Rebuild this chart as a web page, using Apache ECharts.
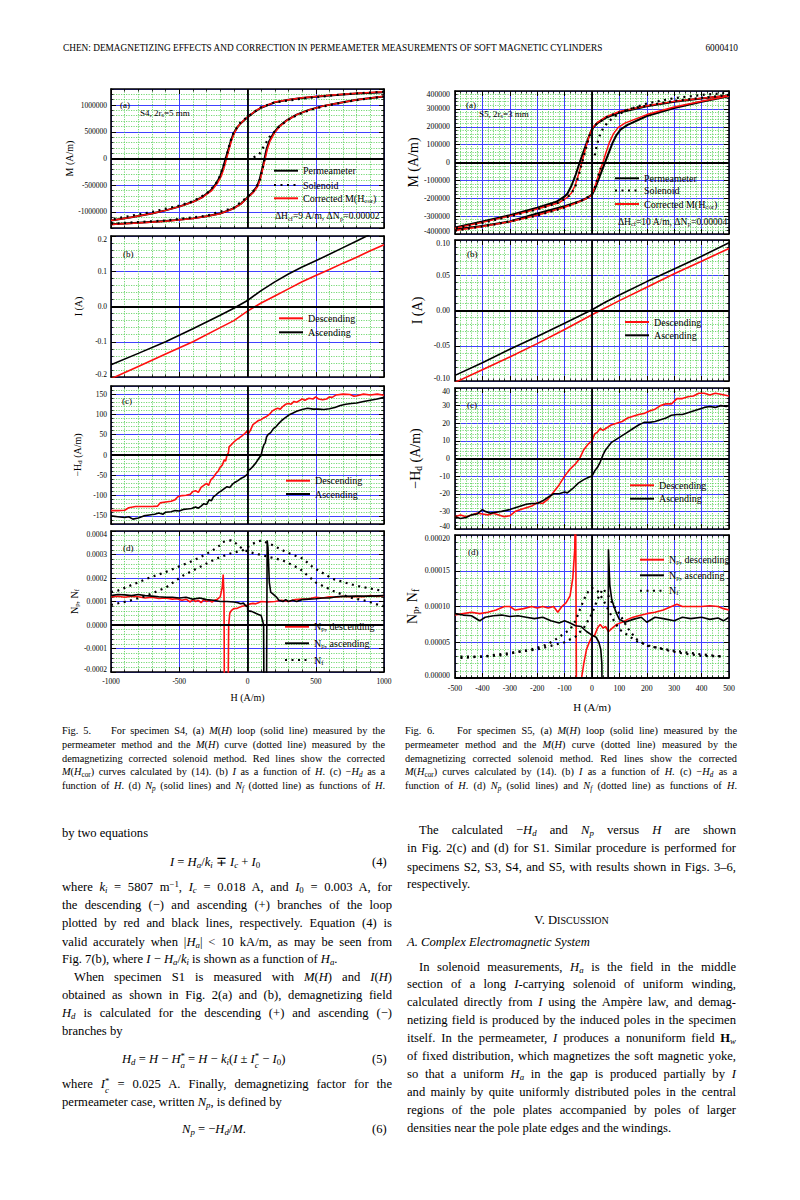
<!DOCTYPE html>
<html><head><meta charset="utf-8">
<script src="https://cdn.jsdelivr.net/npm/echarts@6/dist/echarts.min.js"></script>
<style>
body{margin:0;width:800px;height:1200px;background:#fff;position:relative;overflow:hidden;font-family:"Liberation Serif",serif;color:#000}
#chart{position:absolute;left:0;top:0;width:800px;height:1200px}
.ln{position:absolute;white-space:nowrap;font-size:12.6px;line-height:18px;text-align:justify;text-align-last:justify}
.cap{position:absolute;white-space:nowrap;font-size:10.3px;line-height:13.75px;text-align:justify;text-align-last:justify}
.l{text-align:left;text-align-last:left}
.c{text-align:center;text-align-last:center}
sub{font-size:70%;vertical-align:-0.28em;line-height:0}
sup{font-size:70%;vertical-align:0.5em;line-height:0}
.st{display:inline-block;font-size:70%;line-height:0.95;vertical-align:-0.55em;text-align:left}
</style></head><body>
<div id="chart"></div>

<div class="ln l" style="left:63px;top:39px;font-size:9.3px;line-height:18px;">CHEN: DEMAGNETIZING EFFECTS AND CORRECTION IN PERMEAMETER MEASUREMENTS OF SOFT MAGNETIC CYLINDERS</div>
<div class="ln" style="left:690px;top:39px;width:48px;font-size:9.3px;text-align:right;text-align-last:right;">6000410</div>

<div class="cap" style="left:62px;top:724px;width:323px">Fig. 5.&nbsp;&nbsp;&nbsp; For specimen S4, (a) <i>M</i>(<i>H</i>) loop (solid line) measured by the</div>
<div class="cap" style="left:62px;top:737.75px;width:323px">permeameter method and the <i>M</i>(<i>H</i>) curve (dotted line) measured by the</div>
<div class="cap" style="left:62px;top:751.5px;width:323px">demagnetizing corrected solenoid method. Red lines show the corrected</div>
<div class="cap" style="left:62px;top:765.25px;width:323px"><i>M</i>(<i>H</i><sub>cor</sub>) curves calculated by (14). (b) <i>I</i> as a function of <i>H</i>. (c) &minus;<i>H<sub>d</sub></i> as a</div>
<div class="cap" style="left:62px;top:779px;width:323px">function of <i>H</i>. (d) <i>N<sub>p</sub></i> (solid lines) and <i>N<sub>f</sub></i> (dotted line) as functions of <i>H</i>.</div>

<div class="cap" style="left:405px;top:724px;width:332px">Fig. 6.&nbsp;&nbsp;&nbsp; For specimen S5, (a) <i>M</i>(<i>H</i>) loop (solid line) measured by the</div>
<div class="cap" style="left:405px;top:737.75px;width:332px">permeameter method and the <i>M</i>(<i>H</i>) curve (dotted line) measured by the</div>
<div class="cap" style="left:405px;top:751.5px;width:332px">demagnetizing corrected solenoid method. Red lines show the corrected</div>
<div class="cap" style="left:405px;top:765.25px;width:332px"><i>M</i>(<i>H</i><sub>cor</sub>) curves calculated by (14). (b) <i>I</i> as a function of <i>H</i>. (c) &minus;<i>H<sub>d</sub></i> as a</div>
<div class="cap" style="left:405px;top:779px;width:332px">function of <i>H</i>. (d) <i>N<sub>p</sub></i> (solid lines) and <i>N<sub>f</sub></i> (dotted line) as functions of <i>H</i>.</div>

<div class="ln l" style="left:62px;top:824px">by two equations</div>
<div class="ln l" style="left:170px;top:852.5px"><i>I</i> = <i>H<sub>a</sub></i>/<i>k<sub>i</sub></i> &#8723; <i>I<sub>c</sub></i> + <i>I</i><sub>0</sub></div>
<div class="ln l" style="left:372px;top:852.5px">(4)</div>
<div class="ln" style="left:62px;top:877.7px;width:330px">where <i>k<sub>i</sub></i> = 5807 m<sup>&minus;1</sup>, <i>I<sub>c</sub></i> = 0.018 A, and <i>I</i><sub>0</sub> = 0.003 A, for</div>
<div class="ln" style="left:62px;top:896px;width:330px">the descending (&minus;) and ascending (+) branches of the loop</div>
<div class="ln" style="left:62px;top:914px;width:330px">plotted by red and black lines, respectively. Equation (4) is</div>
<div class="ln" style="left:62px;top:932.7px;width:330px">valid accurately when |<i>H<sub>a</sub></i>| &lt; 10 kA/m, as may be seen from</div>
<div class="ln l" style="left:62px;top:950px;">Fig. 7(b), where <i>I</i> &minus; <i>H<sub>a</sub></i>/<i>k<sub>i</sub></i> is shown as a function of <i>H<sub>a</sub></i>.</div>
<div class="ln" style="left:74px;top:968.3px;width:318px">When specimen S1 is measured with <i>M</i>(<i>H</i>) and <i>I</i>(<i>H</i>)</div>
<div class="ln" style="left:62px;top:986px;width:330px">obtained as shown in Fig. 2(a) and (b), demagnetizing field</div>
<div class="ln" style="left:62px;top:1004px;width:330px"><i>H<sub>d</sub></i> is calculated for the descending (+) and ascending (&minus;)</div>
<div class="ln l" style="left:62px;top:1022px">branches by</div>
<div class="ln l" style="left:122px;top:1050px"><i>H<sub>d</sub></i> = <i>H</i> &minus; <i>H</i><span class="st">*<br><i>a</i></span> = <i>H</i> &minus; <i>k<sub>i</sub></i>(<i>I</i> &plusmn; <i>I</i><span class="st">*<br><i>c</i></span> &minus; <i>I</i><sub>0</sub>)</div>
<div class="ln l" style="left:372px;top:1050px">(5)</div>
<div class="ln" style="left:62px;top:1075px;width:330px">where <i>I</i><span class="st">*<br><i>c</i></span> = 0.025 A. Finally, demagnetizing factor for the</div>
<div class="ln l" style="left:62px;top:1093px">permeameter case, written <i>N<sub>p</sub></i>, is defined by</div>
<div class="ln l" style="left:182px;top:1120px"><i>N<sub>p</sub></i> = &minus;<i>H<sub>d</sub></i>/<i>M</i>.</div>
<div class="ln l" style="left:372px;top:1120px">(6)</div>

<div class="ln" style="left:419px;top:821px;width:317px">The calculated &minus;<i>H<sub>d</sub></i> and <i>N<sub>p</sub></i> versus <i>H</i> are shown</div>
<div class="ln" style="left:407px;top:839.3px;width:329px">in Fig. 2(c) and (d) for S1. Similar procedure is performed for</div>
<div class="ln" style="left:407px;top:857.7px;width:329px">specimens S2, S3, S4, and S5, with results shown in Figs. 3&ndash;6,</div>
<div class="ln l" style="left:407px;top:875.3px">respectively.</div>
<div class="ln c" style="left:407px;top:911px;width:329px">V. D<span style="font-size:10px">ISCUSSION</span></div>
<div class="ln l" style="left:407px;top:933.3px"><i>A. Complex Electromagnetic System</i></div>
<div class="ln" style="left:419px;top:957.7px;width:317px">In solenoid measurements, <i>H<sub>a</sub></i> is the field in the middle</div>
<div class="ln" style="left:407px;top:975.3px;width:329px">section of a long <i>I</i>-carrying solenoid of uniform winding,</div>
<div class="ln" style="left:407px;top:993.3px;width:329px">calculated directly from <i>I</i> using the Amp&egrave;re law, and demag-</div>
<div class="ln" style="left:407px;top:1011px;width:329px">netizing field is produced by the induced poles in the specimen</div>
<div class="ln" style="left:407px;top:1028.7px;width:329px">itself. In the permeameter, <i>I</i> produces a nonuniform field <b>H</b><sub><i>w</i></sub></div>
<div class="ln" style="left:407px;top:1046.7px;width:329px">of fixed distribution, which magnetizes the soft magnetic yoke,</div>
<div class="ln" style="left:407px;top:1064.7px;width:329px">so that a uniform <i>H<sub>a</sub></i> in the gap is produced partially by <i>I</i></div>
<div class="ln" style="left:407px;top:1082.7px;width:329px">and mainly by quite uniformly distributed poles in the central</div>
<div class="ln" style="left:407px;top:1101px;width:329px">regions of the pole plates accompanied by poles of larger</div>
<div class="ln l" style="left:407px;top:1119.3px">densities near the pole plate edges and the windings.</div>

<script>
// ---------------- DATA : Fig. 5 (specimen S4) ----------------
const f5aPermDesc=[[1000,1.24e6],[800,1.215e6],[600,1.18e6],[400,1.13e6],[300,1.1e6],[200,1.05e6],[100,0.95e6],[50,0.87e6],[0,0.77e6],[-40,0.68e6],[-70,0.6e6],[-100,0.48e6],[-120,0.35e6],[-140,0.17e6],[-160,0],[-180,-0.18e6],[-200,-0.33e6],[-230,-0.47e6],[-270,-0.6e6],[-330,-0.72e6],[-400,-0.81e6],[-500,-0.9e6],[-600,-0.97e6],[-700,-1.03e6],[-850,-1.1e6],[-1000,-1.16e6]];
const f5aPermAsc=[[-1000,-1.23e6],[-800,-1.2e6],[-600,-1.17e6],[-400,-1.12e6],[-300,-1.08e6],[-200,-1.03e6],[-100,-0.93e6],[-50,-0.85e6],[0,-0.73e6],[40,-0.63e6],[70,-0.52e6],[90,-0.38e6],[110,-0.17e6],[125,0],[140,0.18e6],[160,0.33e6],[190,0.47e6],[230,0.6e6],[290,0.72e6],[360,0.82e6],[450,0.91e6],[550,0.98e6],[650,1.03e6],[800,1.1e6],[1000,1.16e6]];
const f5aCorrDesc=[[1000,1.25e6],[800,1.22e6],[600,1.185e6],[400,1.135e6],[300,1.1e6],[200,1.055e6],[100,0.955e6],[50,0.875e6],[0,0.775e6],[-40,0.685e6],[-70,0.6e6],[-95,0.48e6],[-115,0.35e6],[-135,0.17e6],[-153,0],[-172,-0.18e6],[-192,-0.33e6],[-222,-0.47e6],[-262,-0.6e6],[-325,-0.72e6],[-400,-0.815e6],[-500,-0.9e6],[-600,-0.97e6],[-700,-1.03e6],[-850,-1.1e6],[-1000,-1.16e6]];
const f5aCorrAsc=[[-1000,-1.235e6],[-800,-1.205e6],[-600,-1.172e6],[-400,-1.122e6],[-300,-1.082e6],[-200,-1.032e6],[-100,-0.935e6],[-50,-0.855e6],[0,-0.735e6],[45,-0.63e6],[75,-0.52e6],[95,-0.38e6],[114,-0.17e6],[130,0],[146,0.18e6],[166,0.33e6],[196,0.47e6],[236,0.6e6],[294,0.72e6],[362,0.82e6],[452,0.91e6],[552,0.98e6],[652,1.03e6],[800,1.1e6],[1000,1.165e6]];
const f5aSolInit=[[45,0.02e6],[85,0.08e6],[100,0.13e6],[118,0.22e6],[137,0.3e6],[160,0.4e6],[190,0.48e6],[230,0.59e6],[290,0.71e6],[360,0.81e6],[450,0.9e6],[550,0.97e6],[700,1.05e6],[850,1.11e6],[1000,1.16e6]];
const f5aSolDesc=[[1000,1.25e6],[700,1.2e6],[400,1.12e6],[200,1.05e6],[100,0.96e6],[0,0.78e6],[-50,0.68e6],[-100,0.5e6],[-128,0.3e6],[-148,0.1e6],[-165,-0.05e6],[-185,-0.2e6],[-210,-0.38e6],[-240,-0.5e6],[-300,-0.66e6],[-400,-0.8e6],[-500,-0.88e6],[-700,-1.0e6],[-1000,-1.14e6]];
const f5aSolAsc=[[-1000,-1.22e6],[-600,-1.16e6],[-300,-1.07e6],[-100,-0.92e6],[0,-0.72e6],[60,-0.56e6],[90,-0.4e6],[110,-0.2e6],[125,0]];

const f5bDesc=[[-1000,-0.205],[-800,-0.17],[-600,-0.135],[-400,-0.1],[-200,-0.06],[-100,-0.04],[0,-0.013],[100,0.01],[200,0.03],[300,0.05],[400,0.07],[500,0.088],[600,0.105],[700,0.123],[800,0.14],[900,0.158],[1000,0.175]];
const f5bAsc=[[-1000,-0.165],[-800,-0.133],[-600,-0.1],[-400,-0.063],[-200,-0.025],[-100,-0.005],[0,0.017],[100,0.045],[200,0.07],[300,0.092],[400,0.112],[500,0.13],[600,0.148],[700,0.167],[800,0.186],[900,0.205],[1000,0.225]];

const f5cDesc=[[-1000,-137],[-950,-137],[-900,-136],[-870,-130],[-820,-127],[-750,-127],[-700,-127],[-660,-126],[-640,-118],[-600,-116],[-560,-114],[-530,-110],[-510,-103],[-480,-100],[-450,-99],[-420,-97],[-400,-90],[-380,-88],[-360,-92],[-340,-80],[-320,-75],[-300,-70],[-285,-75],[-270,-62],[-250,-55],[-230,-45],[-215,-40],[-200,-30],[-185,-25],[-170,-12],[-160,-15],[-150,0],[-140,5],[-135,20],[-120,25],[-100,32],[-80,38],[-60,42],[-40,47],[-20,53],[0,60],[2,50],[20,60],[40,75],[60,80],[80,85],[100,87],[120,92],[140,95],[160,100],[180,108],[200,112],[220,115],[240,113],[260,120],[280,125],[300,127],[320,125],[340,132],[360,130],[380,134],[400,138],[420,135],[450,140],[480,138],[500,143],[520,138],[550,136],[580,138],[600,143],[620,142],[650,148],[700,150],[750,149],[780,145],[800,146],[850,150],[900,148],[950,150],[1000,147]];
const f5cAsc=[[-1000,-150],[-950,-152],[-900,-154],[-870,-152],[-840,-158],[-800,-155],[-760,-150],[-720,-148],[-680,-146],[-650,-143],[-620,-146],[-600,-141],[-560,-140],[-530,-137],[-500,-138],[-470,-134],[-440,-133],[-410,-132],[-380,-128],[-360,-131],[-340,-126],[-320,-120],[-300,-122],[-280,-110],[-265,-113],[-250,-103],[-230,-98],[-210,-92],[-190,-88],[-170,-83],[-150,-78],[-130,-80],[-110,-72],[-90,-67],[-70,-63],[-50,-58],[-30,-55],[-10,-50],[0,-48],[2,-38],[20,-35],[40,-28],[60,-20],[80,-10],[90,-5],[100,0],[110,15],[120,25],[130,30],[140,45],[150,50],[170,55],[190,65],[210,70],[230,78],[250,85],[270,90],[290,95],[310,100],[330,103],[360,108],[400,112],[440,115],[480,113],[520,113],[560,112],[600,114],[640,117],[680,122],[720,125],[760,127],[800,128],[850,132],[900,135],[950,138],[1000,142]];

const f5dDesc=[[-1000,0.00012],[-950,0.000122],[-900,0.000118],[-850,0.000122],[-800,0.00012],[-750,0.000115],[-700,0.000118],[-650,0.000113],[-600,0.000115],[-550,0.00011],[-520,0.000112],[-480,0.000105],[-450,0.00011],[-420,0.000098],[-400,0.000108],[-380,0.0001],[-360,0.000105],[-340,0.000095],[-320,0.000108],[-300,0.0001],[-280,0.000105],[-260,0.000098],[-240,0.000105],[-220,0.00011],[-200,0.00012],[-185,0.00016],[-178,0.000215],[-172,0.00012],[-168,-0.0005],[-145,-0.0005],[-138,0],[-130,0.00005],[-120,0.00006],[-110,0.000065],[-100,0.00007],[-80,0.00007],[-60,0.000075],[-40,0.00008],[-20,0.000082],[0,0.000085],[20,0.00009],[40,0.000092],[60,0.00009],[80,0.000095],[100,0.0001],[150,0.000098],[200,0.0001],[250,0.000105],[300,0.0001],[350,0.000108],[400,0.00011],[450,0.000112],[500,0.000118],[550,0.000115],[600,0.00012],[650,0.000118],[700,0.000122],[750,0.00012],[800,0.000122],[850,0.00012],[900,0.000125],[950,0.000122],[1000,0.000125]];
const f5dAsc=[[-1000,0.000125],[-950,0.00013],[-900,0.000128],[-850,0.000125],[-800,0.00013],[-750,0.000125],[-700,0.000123],[-650,0.00012],[-600,0.000118],[-550,0.000118],[-500,0.000115],[-450,0.000118],[-400,0.00011],[-350,0.000115],[-300,0.000108],[-250,0.000105],[-200,0.0001],[-150,0.0001],[-100,0.000098],[-70,0.000095],[-50,0.00009],[-30,0.000093],[-10,0.00008],[0,0.00008],[2,0.00006],[30,0.000058],[60,0.00005],[80,0.000045],[100,0.00004],[110,0.00002],[118,0],[122,-0.0005],[138,-0.0005],[144,0.00036],[150,0.00033],[160,0.00018],[170,0.00014],[190,0.00013],[210,0.00012],[230,0.000105],[260,0.0001],[280,0.000108],[300,0.0001],[330,0.000105],[360,0.0001],[400,0.000108],[450,0.00011],[500,0.000112],[550,0.000115],[600,0.000115],[650,0.00012],[700,0.000122],[800,0.000123],[900,0.000123],[1000,0.000125]];
const f5dNfA=[[-1000,0.00014],[-950,0.000146],[-850,0.00017],[-742,0.000196],[-650,0.000215],[-571,0.000232],[-500,0.00025],[-425,0.000267],[-340,0.00029],[-254,0.000318],[-200,0.00034],[-181,0.000353],[-150,0.000358],[-120,0.00036],[-90,0.00035],[-50,0.00033],[-20,0.000318],[16,0.00031],[113,0.000296],[259,0.000275],[381,0.00024],[503,0.00018],[625,0.000146],[747,0.000117],[868,0.000103],[978,0.000082],[1000,0.00008]];
const f5dNfB=[[-1000,0.000085],[-975,0.000089],[-865,0.000103],[-742,0.000124],[-596,0.00016],[-474,0.00021],[-352,0.000246],[-230,0.000282],[-132,0.000303],[-34,0.000318],[39,0.000346],[100,0.00036],[186,0.000339],[284,0.00031],[406,0.000282],[479,0.000246],[625,0.000196],[796,0.000167],[980,0.000146],[1000,0.000143]];

// ---------------- DATA : Fig. 6 (specimen S5) ----------------
const f6aPermDesc=[[500,3.75e5],[400,3.58e5],[300,3.4e5],[200,3.15e5],[100,2.8e5],[50,2.5e5],[20,2.2e5],[3,1.92e5],[-5,1.7e5],[-15,1.3e5],[-30,0.65e5],[-45,0],[-60,-0.7e5],[-75,-1.3e5],[-90,-1.75e5],[-100,-1.9e5],[-130,-2.2e5],[-200,-2.53e5],[-300,-2.95e5],[-400,-3.3e5],[-500,-3.63e5]];
const f6aPermAsc=[[-500,-3.75e5],[-400,-3.55e5],[-300,-3.3e5],[-200,-2.85e5],[-100,-2.45e5],[-50,-2.2e5],[-20,-2.0e5],[0,-1.8e5],[10,-1.5e5],[25,-0.9e5],[40,-0.3e5],[50,0.1e5],[60,0.5e5],[75,1.1e5],[90,1.55e5],[105,1.85e5],[130,2.1e5],[200,2.6e5],[300,3.05e5],[400,3.4e5],[500,3.7e5]];
const f6aCorrDesc=[[500,3.75e5],[400,3.6e5],[300,3.42e5],[200,3.18e5],[100,2.85e5],[50,2.55e5],[20,2.25e5],[5,2.0e5],[-3,1.8e5],[-12,1.4e5],[-25,0.7e5],[-37,0],[-50,-0.7e5],[-62,-1.3e5],[-75,-1.7e5],[-90,-1.95e5],[-120,-2.25e5],[-200,-2.6e5],[-300,-3.0e5],[-400,-3.35e5],[-500,-3.68e5]];
const f6aCorrAsc=[[-500,-3.8e5],[-400,-3.58e5],[-300,-3.32e5],[-200,-2.95e5],[-100,-2.5e5],[-50,-2.22e5],[-20,-2.02e5],[-3,-1.85e5],[5,-1.6e5],[18,-1.0e5],[30,-0.4e5],[40,0],[50,0.5e5],[63,1.1e5],[78,1.6e5],[95,1.95e5],[120,2.2e5],[200,2.68e5],[300,3.1e5],[400,3.43e5],[500,3.72e5]];
const f6aSolInit=[[10,0.4e5],[18,1.0e5],[28,1.5e5],[40,1.9e5],[60,2.3e5],[90,2.65e5],[130,2.95e5],[200,3.3e5],[300,3.6e5],[400,3.78e5],[500,3.9e5]];
const f6aSolDesc=[[500,3.78e5],[300,3.45e5],[150,3.05e5],[60,2.6e5],[15,2.15e5],[0,1.85e5],[-10,1.45e5],[-22,0.8e5],[-35,0.05e5],[-48,-0.7e5],[-60,-1.3e5],[-75,-1.75e5],[-95,-2.0e5],[-130,-2.3e5],[-200,-2.62e5],[-300,-3.02e5],[-400,-3.38e5],[-500,-3.7e5]];
const f6aSolAsc=[[-500,-3.82e5],[-350,-3.45e5],[-200,-2.97e5],[-100,-2.52e5],[-40,-2.15e5],[-5,-1.86e5],[8,-1.5e5],[20,-0.9e5],[32,-0.3e5]];

const f6bDesc=[[-500,-0.102],[-400,-0.084],[-300,-0.066],[-200,-0.047],[-100,-0.027],[0,-0.006],[100,0.014],[200,0.033],[300,0.052],[400,0.07],[500,0.088]];
const f6bAsc=[[-500,-0.092],[-400,-0.074],[-300,-0.055],[-200,-0.037],[-100,-0.018],[0,0.001],[50,0.012],[100,0.022],[200,0.041],[300,0.059],[400,0.077],[500,0.096]];

const f6cDesc=[[-500,-33],[-480,-32],[-460,-33],[-440,-32],[-420,-31],[-400,-31.5],[-380,-32],[-360,-31],[-340,-32],[-320,-33],[-300,-32.5],[-280,-30],[-260,-29],[-240,-28],[-220,-27],[-200,-25],[-180,-25.5],[-160,-23],[-140,-19],[-120,-15],[-100,-10],[-80,-6],[-60,-3],[-45,0],[-30,5],[-15,8],[0,10],[10,14],[20,15],[30,17],[40,16],[50,17],[70,19],[90,20],[110,21],[130,23],[150,24],[170,25],[190,25.5],[210,27],[230,28],[250,30],[270,31],[290,31],[310,34],[330,34],[350,35],[370,35.5],[390,37],[410,37],[430,36],[450,37],[470,36.5],[500,35.5]];
const f6cAsc=[[-500,-33],[-480,-34],[-460,-33.5],[-440,-32],[-420,-31.5],[-400,-29],[-390,-30],[-370,-31],[-350,-30.5],[-330,-30],[-300,-29],[-280,-28],[-260,-27],[-240,-26],[-220,-25.5],[-200,-25.5],[-180,-24],[-160,-22],[-140,-20],[-120,-20],[-100,-19],[-90,-19.5],[-70,-17],[-50,-14],[-30,-12],[-10,-10.5],[0,-10],[10,-7],[20,-5],[30,-2],[40,2],[50,5],[70,9],[90,11],[110,13],[130,15],[150,17],[170,19],[190,20.5],[210,20.5],[230,21],[250,22],[270,23],[290,24.5],[310,25],[330,25],[350,26],[370,27],[390,28],[410,29],[430,29.5],[450,29],[470,30],[490,29.5],[500,30]];

const f6dDesc=[[-500,0.000088],[-470,0.00009],[-440,0.000092],[-410,0.00009],[-380,0.000092],[-350,0.000095],[-320,0.0001],[-300,0.0001],[-280,0.000095],[-250,0.000097],[-220,0.0001],[-200,0.000098],[-180,0.0001],[-160,0.000098],[-140,0.0001],[-125,0.000092],[-110,0.0001],[-95,0.000105],[-80,0.000115],[-70,0.00014],[-63,0.00018],[-60,0.00025],[-58,0.0001],[-56,-0.0001],[-42,-0.0001],[-38,0],[-30,0.00002],[-20,0.00004],[-10,0.00005],[0,0.000058],[10,0.00006],[20,0.00007],[30,0.000075],[40,0.00007],[50,0.000072],[60,0.000065],[75,0.00007],[90,0.000075],[110,0.000078],[130,0.000082],[150,0.000085],[170,0.000087],[200,0.00009],[230,0.000092],[260,0.000095],[290,0.0001],[310,0.000103],[330,0.0001],[360,0.0001],[400,0.0001],[430,0.000101],[460,0.0001],[480,0.000097],[500,0.000095]];
const f6dAsc=[[-500,0.00009],[-470,0.000088],[-440,0.000087],[-410,0.00008],[-390,0.000085],[-360,0.000087],[-330,0.000088],[-300,0.000086],[-270,0.000087],[-240,0.000085],[-210,0.000083],[-180,0.000085],[-150,0.00008],[-120,0.000077],[-100,0.00008],[-80,0.000077],[-60,0.000073],[-40,0.000072],[-20,0.000065],[0,0.00006],[15,0.000057],[25,0.00005],[32,0.00004],[36,0.00002],[38,-0.0001],[58,-0.0001],[60,0.00018],[65,0.00013],[72,0.00011],[80,0.0001],[90,0.00009],[100,0.000082],[120,0.000078],[150,0.000082],[180,0.000085],[200,0.000078],[230,0.000085],[260,0.000083],[300,0.00008],[330,0.000085],[360,0.000083],[400,0.000085],[430,0.000082],[460,0.000084],[480,0.00008],[500,0.000085]];
const f6dNfA=[[-480,0.00003],[-400,0.00003],[-320,0.000032],[-280,0.000036],[-220,0.00004],[-170,0.000046],[-140,0.000052],[-110,0.00006],[-80,0.000068],[-60,0.00008],[-40,0.0001],[-20,0.000118],[0,0.000126],[20,0.000122],[40,0.00011],[60,0.000095],[80,0.00008],[100,0.000068],[130,0.00006],[160,0.000052],[200,0.000046],[260,0.00004],[320,0.000035],[400,0.000031],[480,0.00003]];
const f6dNfB=[[-480,0.000028],[-400,0.00003],[-300,0.000035],[-200,0.00004],[-150,0.000045],[-100,0.00005],[-60,0.000058],[-30,0.00007],[0,0.00009],[20,0.00011],[40,0.000125],[60,0.000115],[80,0.0001],[100,0.00009],[130,0.00007],[160,0.000055],[200,0.000045],[300,0.000038],[400,0.000033],[480,0.00003]];

// tick label formats
const fmt5aY=v=>String(v), fmt5bY=v=>v.toFixed(1), fmt5cY=v=>String(v), fmt5dY=v=>v.toFixed(4);
const fmt6aY=v=>String(v), fmt6bY=v=>v.toFixed(2), fmt6cY=v=>String(v), fmt6dY=v=>v.toFixed(5);

// ---------------- BUILD ----------------
const F='Liberation Serif';
const RED='#ff1010', BLK='#000000';
const grids=[],xAxis=[],yAxis=[],series=[],legend=[],graphic=[];
function mult(a,b){const r=a/b;return Math.abs(r-Math.round(r))<1e-6;}
function axisPair(dim,o,gi,pos,main){
  const min=o[dim+'min'],max=o[dim+'max'],maj=o[dim+'maj'],mnr=o[dim+'mnr'];
  const common={gridIndex:gi,type:'value',position:pos,min:min,max:max,silent:true,
    axisLine:{show:false,onZero:false},axisLabel:{show:false},splitLine:{show:false}};
  const minorAx=Object.assign({},common,{interval:mnr,
    axisTick:{show:true,inside:true,length:2.5,lineStyle:{color:'#000',width:0.8}},
    splitLine:{show:main,lineStyle:{color:'#52cf52',width:0.8,type:[1.2,1.3]}}});
  const majorAx=Object.assign({},common,{
    axisLine:{show:true,onZero:false,lineStyle:{color:'#000',width:1.6}},
    axisTick:{show:true,inside:true,length:5,lineStyle:{color:'#000',width:1}},
    splitLine:{show:main,lineStyle:{color:'#4040ff',width:1}}});
  if(mult(min,maj)) majorAx.interval=maj; else majorAx.splitNumber=Math.round((max-min)/maj);
  return [minorAx,majorAx,mult(min,maj)];
}
const richBase=(fs)=>({n:{fontFamily:F,fontSize:fs,color:'#000'},s:{fontFamily:F,fontSize:fs*0.68,color:'#000',padding:[fs*0.45,0,0,0]},u:{fontFamily:F,fontSize:fs*0.68,color:'#000',padding:[0,0,fs*0.45,0]}});
function addPanel(o){
  const gi=grids.length;
  grids.push({left:o.l,top:o.t,width:o.w,height:o.h});
  const [xm,xM,xNice]=axisPair('x',o,gi,'bottom',true);
  const [xmT,xMT]=axisPair('x',o,gi,'top',false);
  const [ym,yM,yNice]=axisPair('y',o,gi,'left',true);
  const [ymR,yMR]=axisPair('y',o,gi,'right',false);
  xM.axisLabel={show:!!o.xLabels,color:'#000',fontFamily:F,fontSize:o.fs,margin:o.xLm,formatter:v=>String(v),showMinLabel:xNice,showMaxLabel:xNice};
  if(o.xName){xM.name=o.xName;xM.nameLocation='middle';xM.nameGap=o.xNg;xM.nameTextStyle={color:'#000',fontFamily:F,fontSize:o.nfs};}
  // edge labels nudged inward so stacked panels' end labels do not collide
  const edge=(v)=>{const s=o.yFmt(v);
    if(Math.abs(v-o.ymax)<1e-12) return '{dn|'+s+'}';
    if(Math.abs(v-o.ymin)<1e-12) return '{up|'+s+'}';
    return s;};
  yM.axisLabel={show:true,color:'#000',fontFamily:F,fontSize:o.fs,margin:o.yLm,formatter:edge,showMinLabel:yNice,showMaxLabel:yNice,
    rich:{dn:{fontFamily:F,fontSize:o.fs,color:'#000',padding:[6,0,0,0]},up:{fontFamily:F,fontSize:o.fs,color:'#000',padding:[0,0,6,0]}}};
  yM.name=o.yName;yM.nameLocation='middle';yM.nameGap=o.yNg;yM.nameRotate=90;
  yM.nameTextStyle={color:'#000',fontFamily:F,fontSize:o.nfs,rich:richBase(o.nfs)};
  xAxis.push(xm);const xi=xAxis.length;xAxis.push(xM,xmT,xMT);
  yAxis.push(ym);const yi=yAxis.length;yAxis.push(yM,ymR,yMR);
  series.push({type:'line',name:'zero'+gi,xAxisIndex:xi,yAxisIndex:yi,data:[],silent:true,z:1,
    markLine:{silent:true,symbol:['none','none'],label:{show:false},animation:false,
      lineStyle:{color:'#000',width:1.8,type:'solid'},data:[{xAxis:0},{yAxis:0}]}});
  return {xi:xi,yi:yi};
}
function addLine(p,name,data,color,width,dotted,z){
  series.push({type:'line',name:name,data:data,xAxisIndex:p.xi,yAxisIndex:p.yi,symbol:'none',showSymbol:false,
    animation:false,silent:true,clip:true,z:z||3,
    lineStyle:{color:color,width:width,type:dotted?[2,4.5]:'solid'},itemStyle:{color:color}});
}
function addLegend(name,x,yc,fs,iw,text){
  legend.push({left:x,top:yc-(fs+2)/2,padding:0,itemGap:0,itemWidth:iw,itemHeight:2,selectedMode:false,orient:'vertical',
    itemStyle:{opacity:0,borderWidth:0},
    data:[name],formatter:()=>text,textStyle:{color:'#000',fontFamily:F,fontSize:fs,lineHeight:fs+2,rich:richBase(fs)}});
}
function addText(x,y,fs,text){
  graphic.push({type:'text',x:x,y:y,silent:true,z:100,style:{text:text,fontFamily:F,fontSize:fs,fill:'#000',verticalAlign:'middle',rich:richBase(fs)}});
}

// ---- Fig 5 panels
const c5={l:111,w:273,xmin:-1000,xmax:1000,xmaj:500,xmnr:100,fs:7.5,yLm:4,xLm:5,nfs:10,yNg:28};
const p5a=addPanel(Object.assign({},c5,{t:89,h:139,ymin:-1.3e6,ymax:1.3e6,ymaj:5e5,ymnr:1e5,yFmt:fmt5aY,yName:'M (A/m)'}));
const p5b=addPanel(Object.assign({},c5,{t:236,h:141,ymin:-0.2,ymax:0.2,ymaj:0.1,ymnr:0.02,yFmt:fmt5bY,yName:'I (A)'}));
const p5c=addPanel(Object.assign({},c5,{t:386,h:138,ymin:-170,ymax:170,ymaj:50,ymnr:10,yFmt:fmt5cY,yName:'{n|\u2212H}{s|d}{n| (A/m)}'}));
const p5d=addPanel(Object.assign({},c5,{t:531,h:141,ymin:-0.0002,ymax:0.0004,ymaj:0.0001,ymnr:0.00002,yFmt:fmt5dY,yName:'{n|N}{s|p}{n|, N}{s|f}',xLabels:true,xName:'H (A/m)',xNg:20}));

addLine(p5a,'f5a_perm',f5aPermDesc,BLK,2);
addLine(p5a,'f5a_perm',f5aPermAsc,BLK,2);
addLine(p5a,'f5a_corr',f5aCorrDesc,RED,1.5,false,4);
addLine(p5a,'f5a_corr',f5aCorrAsc,RED,1.5,false,4);
addLine(p5a,'f5a_sol',f5aSolInit,BLK,2.2,true,5);
addLine(p5a,'f5a_sol',f5aSolDesc,BLK,2.2,true,5);
addLine(p5a,'f5a_sol',f5aSolAsc,BLK,2.2,true,5);
addLine(p5b,'f5b_desc',f5bDesc,RED,1.6);
addLine(p5b,'f5b_asc',f5bAsc,BLK,1.6);
addLine(p5c,'f5c_desc',f5cDesc,RED,1.6);
addLine(p5c,'f5c_asc',f5cAsc,BLK,1.6);
addLine(p5d,'f5d_desc',f5dDesc,RED,1.6);
addLine(p5d,'f5d_asc',f5dAsc,BLK,1.6);
addLine(p5d,'f5d_nf',f5dNfA,BLK,2.2,true);
addLine(p5d,'f5d_nf',f5dNfB,BLK,2.2,true);

// ---- Fig 6 panels
const c6={l:455,w:274,xmin:-500,xmax:500,xmaj:100,xmnr:20,fs:7.8,yLm:5,xLm:6,nfs:14,yNg:31};
const p6a=addPanel(Object.assign({},c6,{t:91,h:143,ymin:-4e5,ymax:4e5,ymaj:1e5,ymnr:2e4,yFmt:fmt6aY,yName:'M (A/m)'}));
const p6b=addPanel(Object.assign({},c6,{t:240,h:141,ymin:-0.1,ymax:0.1,ymaj:0.05,ymnr:0.01,yFmt:fmt6bY,yName:'I (A)'}));
const p6c=addPanel(Object.assign({},c6,{t:388,h:141,ymin:-40,ymax:40,ymaj:10,ymnr:2,yFmt:fmt6cY,yName:'{n|\u2212H}{s|d}{n| (A/m)}'}));
const p6d=addPanel(Object.assign({},c6,{t:535,h:143,ymin:0,ymax:0.0002,ymaj:0.00005,ymnr:0.00001,yFmt:fmt6dY,yName:'{n|N}{s|p}{n|, N}{s|f}',xLabels:true,xName:'H (A/m)',xNg:23}));
xAxis[p6d.xi].nameTextStyle.fontSize=11;

addLine(p6a,'f6a_perm',f6aPermDesc,BLK,2);
addLine(p6a,'f6a_perm',f6aPermAsc,BLK,2);
addLine(p6a,'f6a_corr',f6aCorrDesc,RED,1.5,false,4);
addLine(p6a,'f6a_corr',f6aCorrAsc,RED,1.5,false,4);
addLine(p6a,'f6a_sol',f6aSolInit,BLK,2.2,true,5);
addLine(p6a,'f6a_sol',f6aSolDesc,BLK,2.2,true,5);
addLine(p6a,'f6a_sol',f6aSolAsc,BLK,2.2,true,5);
addLine(p6b,'f6b_desc',f6bDesc,RED,1.6);
addLine(p6b,'f6b_asc',f6bAsc,BLK,1.6);
addLine(p6c,'f6c_desc',f6cDesc,RED,1.6);
addLine(p6c,'f6c_asc',f6cAsc,BLK,1.6);
addLine(p6d,'f6d_desc',f6dDesc,RED,1.6);
addLine(p6d,'f6d_asc',f6dAsc,BLK,1.6);
addLine(p6d,'f6d_nf',f6dNfA,BLK,2.2,true);
addLine(p6d,'f6d_nf',f6dNfB,BLK,2.2,true);

// ---- legends
addLegend('f5a_perm',273,170.7,10,24,'{n|Permeameter}');
addLegend('f5a_sol',273,185,10,24,'{n|Solenoid}');
addLegend('f5a_corr',273,198.3,10,24,'{n|Corrected M(H}{s|cor}{n|)}');
addLegend('f5b_desc',278,318.3,10,24,'{n|Descending}');
addLegend('f5b_asc',278,332.3,10,24,'{n|Ascending}');
addLegend('f5c_desc',285,480.7,10,24,'{n|Descending}');
addLegend('f5c_asc',285,494,10,24,'{n|Ascending}');
addLegend('f5d_desc',284,626.7,10,24,'{n|N}{s|p}{n|, descending}');
addLegend('f5d_asc',284,643.3,10,24,'{n|N}{s|p}{n|, ascending}');
addLegend('f5d_nf',284,660,10,24,'{n|N}{s|f}');
addLegend('f6a_perm',614,178.3,10,24,'{n|Permeameter}');
addLegend('f6a_sol',614,190.5,10,24,'{n|Solenoid}');
addLegend('f6a_corr',614,204,10,24,'{n|Corrected M(H}{s|cor}{n|)}');
addLegend('f6b_desc',624,322,10,24,'{n|Descending}');
addLegend('f6b_asc',624,335.3,10,24,'{n|Ascending}');
addLegend('f6c_desc',629,485.3,10,24,'{n|Descending}');
addLegend('f6c_asc',629,498.7,10,24,'{n|Ascending}');
addLegend('f6d_desc',639,559.7,10,24,'{n|N}{s|p}{n|, descending}');
addLegend('f6d_asc',639,575.3,10,24,'{n|N}{s|p}{n|, ascending}');
addLegend('f6d_nf',639,590.7,10,24,'{n|N}{s|f}');

// ---- in-plot annotations
addText(120,105,9,'{n|(a)}');
addText(140,113,9,'{n|S4, 2r}{s|s}{n|=5 mm}');
addText(275,216,9.5,'{n|\u0394H}{s|cf}{n|=9 A/m, \u0394N}{s|p}{n|=0.00002}');
addText(123,254,9,'{n|(b)}');
addText(122,401,9,'{n|(c)}');
addText(123,548,9,'{n|(d)}');
addText(466,105,9,'{n|(a)}');
addText(479,114,9,'{n|S5, 2r}{s|s}{n|=3 mm}');
addText(618,221.7,9.5,'{n|\u0394H}{s|cf}{n|=10 A/m, \u0394N}{s|p}{n|=0.00004}');
addText(467,254,9,'{n|(b)}');
addText(467,405,9,'{n|(c)}');
addText(468,552,9,'{n|(d)}');

const chart=echarts.init(document.getElementById('chart'),null,{renderer:'svg',width:800,height:1200});
chart.setOption({animation:false,backgroundColor:'transparent',grid:grids,xAxis:xAxis,yAxis:yAxis,series:series,legend:legend,graphic:graphic});
</script>
</body></html>
